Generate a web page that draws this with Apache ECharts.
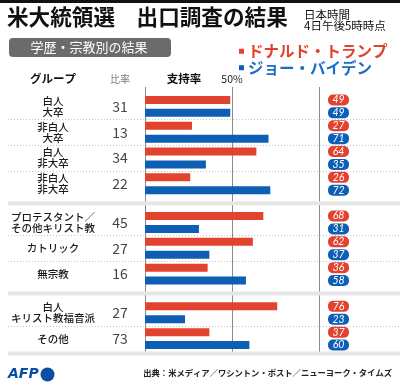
<!DOCTYPE html>
<html><head><meta charset="utf-8">
<script src="https://cdn.jsdelivr.net/npm/echarts@6/dist/echarts.min.js"></script>
<style>html,body{margin:0;padding:0;background:#fff}#c{width:400px;height:385px}</style>
</head><body><div id="c"></div>
<script>
const groups = ['白人\n大卒','非白人\n大卒','白人\n非大卒','非白人\n非大卒','プロテスタント／\nその他キリスト教','カトリック','無宗教','白人\nキリスト教福音派','その他'];
const shares = [31,13,34,22,45,27,16,27,73];
const trump = [49,27,64,26,68,62,36,76,37];
const biden = [49,71,35,72,31,37,58,23,60];
const sectionSizes = [4,3,2];
const seriesNames = ['ドナルド・トランプ','ジョー・バイデン'];
const axisTicks = [0,50,100];

const RED = '#e2432f', BLUE = '#0d5fb6';
const FONT = "'Noto Sans CJK JP', sans-serif";

const slots = [], tData = [], bData = [], tSlot = [], bSlot = [], spacerSlot = [];
let gi = 0;
sectionSizes.forEach((n, s) => {
  for (let k = 0; k < n; k++, gi++) {
    tSlot.push(slots.length); slots.push('T' + gi); tData.push(trump[gi]); bData.push('-');
    bSlot.push(slots.length); slots.push('B' + gi); tData.push('-'); bData.push(biden[gi]);
  }
  if (s < sectionSizes.length - 1) { spacerSlot.push(slots.length); slots.push('S' + s); tData.push('-'); bData.push('-'); }
});

const chart = echarts.init(document.getElementById('c'), null, {renderer: 'canvas'});

function badge(color) {
  return {
    show: true, position: [193.5, 4], align: 'center', verticalAlign: 'middle',
    color: '#fff', fontStyle: 'italic', fontSize: 10.5, fontFamily: 'Lato, sans-serif',
    backgroundColor: color, borderRadius: 5, width: 13, lineHeight: 10, padding: [1, 4, 0, 4],
    textBorderWidth: 0, formatter: '{c}'
  };
}

chart.setOption({
  animation: false,
  textStyle: {fontFamily: FONT},
  legend: {
    left: 234, top: 38, orient: 'vertical', icon: 'rect', itemWidth: 5, itemHeight: 5, itemGap: 0,
    selectedMode: false,
    textStyle: {fontSize: 15.5, fontWeight: 'bold', lineHeight: 16.5, padding: [0, 0, 0, -1]},
    data: [{name: seriesNames[0], textStyle: {color: RED}}, {name: seriesNames[1], textStyle: {color: '#1a6cc4'}}]
  },
  grid: [
    {left: 145, right: 81, top: 93.5, bottom: 33.5},
    {left: 145, right: 81, top: 87, bottom: 32}
  ],
  xAxis: [
    {gridIndex: 0, type: 'value', min: 0, max: 100, show: false},
    {gridIndex: 1, type: 'value', min: 0, max: 100, interval: 50, position: 'top',
     axisLine: {show: false}, axisTick: {show: false},
     axisLabel: {fontSize: 10.5, color: '#222', margin: 3, formatter: v => v === axisTicks[1] ? v + '%' : ''},
     splitLine: {show: true, lineStyle: {color: '#8a8a8a', width: 1}}}
  ],
  yAxis: [
    {gridIndex: 0, type: 'category', data: slots, inverse: true, show: false},
    {gridIndex: 1, type: 'value', show: false}
  ],
  series: [
    {name: seriesNames[0], type: 'bar', xAxisIndex: 0, yAxisIndex: 0, data: tData, barWidth: 8, barGap: '-100%',
     itemStyle: {color: RED}, label: badge(RED), z: 3},
    {name: seriesNames[1], type: 'bar', xAxisIndex: 0, yAxisIndex: 0, data: bData, barWidth: 8, barGap: '-100%',
     itemStyle: {color: BLUE}, label: badge(BLUE), z: 3}
  ]
});

const py = i => chart.convertToPixel({yAxisIndex: 0}, i);
const slotH = py(1) - py(0);
const g = [];
g.push({type: 'rect', shape: {x: 0, y: 0, width: 400, height: 3}, style: {fill: '#111'}});
g.push({type: 'text', left: 7, top: 6, style: {text: '米大統領選　出口調査の結果', font: 'bold 21.6px ' + FONT, fill: '#111'}});
g.push({type: 'text', left: 304, top: 9, style: {text: '日本時間\n4日午後5時時点', lineHeight: 11, fill: '#111', font: '11.5px ' + FONT}});
g.push({type: 'rect', shape: {x: 9, y: 38, width: 162, height: 19, r: 4}, style: {fill: '#6b6b6b'}});
g.push({type: 'text', x: 89, y: 47.5, style: {text: '学歴・宗教別の結果', font: '13px ' + FONT, fill: '#fff', align: 'center', verticalAlign: 'middle'}});
g.push({type: 'text', x: 53, y: 79, style: {text: 'グループ', font: 'bold 11.5px ' + FONT, fill: '#111', align: 'center', verticalAlign: 'middle'}});
g.push({type: 'text', x: 120, y: 79, style: {text: '比率', font: '10px ' + FONT, fill: '#777', align: 'center', verticalAlign: 'middle'}});
g.push({type: 'text', x: 184, y: 79, style: {text: '支持率', font: 'bold 11.5px ' + FONT, fill: '#111', align: 'center', verticalAlign: 'middle'}});
for (let i = 0; i < groups.length; i++) {
  const yc = (py(tSlot[i]) + py(bSlot[i])) / 2;
  g.push({type: 'text', x: 53, y: yc, style: {text: groups[i], font: '500 10.5px ' + FONT, lineHeight: 11, fill: '#1a1a1a', align: 'center', verticalAlign: 'middle'}});
  g.push({type: 'text', x: 120, y: yc, style: {text: String(shares[i]), font: '14px ' + FONT, fill: '#444', align: 'center', verticalAlign: 'middle'}});
}
let idx = 0;
sectionSizes.forEach((n) => {
  for (let k = 0; k < n - 1; k++) {
    const ys = Math.round(py(bSlot[idx + k]) + slotH / 2) + 0.5;
    g.push({type: 'line', shape: {x1: 8, y1: ys, x2: 400, y2: ys}, style: {stroke: '#c4c4c4', lineWidth: 1, lineDash: [1, 2]}});
  }
  idx += n;
});
spacerSlot.forEach(s => {
  g.push({type: 'rect', shape: {x: 8, y: py(s) - 2, width: 392, height: 4}, style: {fill: '#e6e6e6'}, z: 5});
});
const yb = py(bSlot[bSlot.length - 1]) + slotH / 2;
g.push({type: 'rect', shape: {x: 8, y: yb, width: 392, height: 4}, style: {fill: '#e6e6e6'}, z: 5});
g.push({type: 'text', left: 8, top: 367, style: {text: 'AFP', font: 'italic bold 14px "DejaVu Sans", sans-serif', fill: '#0a4fa3'}});
g.push({type: 'circle', shape: {cx: 47.5, cy: 374.5, r: 7}, style: {fill: '#0a4fa3'}});
g.push({type: 'text', right: 8, top: 369, style: {text: '出典：米メディア／ワシントン・ポスト／ニューヨーク・タイムズ', font: 'bold 8.3px ' + FONT, fill: '#222'}});

chart.setOption({graphic: g});
</script>
</body></html>
